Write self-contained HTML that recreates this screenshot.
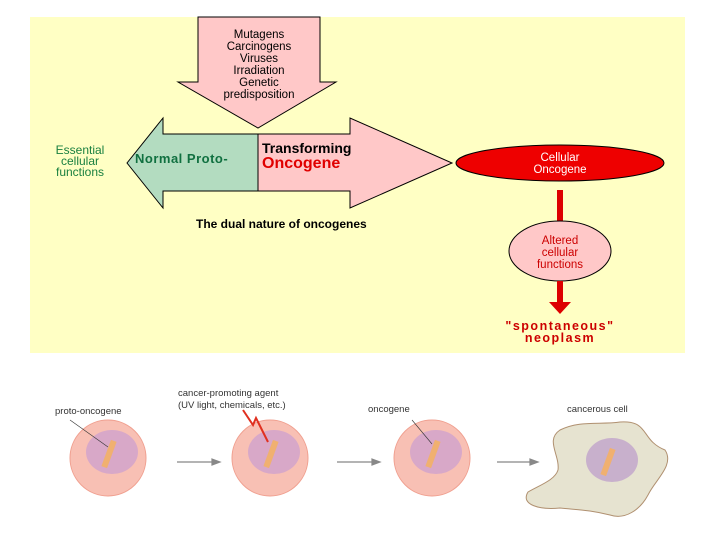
<!DOCTYPE html>
<html><head><style>
body{margin:0;width:720px;height:540px;background:#fff;overflow:hidden;font-family:"Liberation Sans",sans-serif}
</style></head><body>
<svg width="720" height="540" viewBox="0 0 720 540" xmlns="http://www.w3.org/2000/svg" font-family="Liberation Sans, sans-serif">
<rect x="30" y="17" width="655" height="336" fill="#ffffc4"/>
<polygon points="198,17 320,17 320,82 336,82 258,128 178,82 198,82" fill="#ffc8c8" stroke="#000" stroke-width="1"/>
<g font-size="11.5" text-anchor="middle" fill="#000">
<text x="259" y="38">Mutagens</text><text x="259" y="50">Carcinogens</text><text x="259" y="62">Viruses</text>
<text x="259" y="74">Irradiation</text><text x="259" y="86">Genetic</text><text x="259" y="98">predisposition</text></g>
<polygon points="258,134 163,134 163,118 127,163 163,208 163,191 258,191" fill="#b3dcc0" stroke="#000"/>
<polygon points="258,134 350,134 350,118 452,163 350,208 350,191 258,191" fill="#ffc8c8" stroke="#000"/>
<text x="135" y="163" font-size="13" font-weight="bold" fill="#107040" letter-spacing="0.5">Normal  Proto-</text>
<text x="262" y="153" font-size="14" font-weight="bold" fill="#000">Transforming</text>
<text x="262" y="168" font-size="16" font-weight="bold" fill="#e00000">Oncogene</text>
<g font-size="12" fill="#1a8040" text-anchor="middle"><text x="80" y="154">Essential</text><text x="80" y="165">cellular</text><text x="80" y="176">functions</text></g>
<text x="196" y="228" font-size="12" font-weight="bold" fill="#000">The dual nature of oncogenes</text>
<ellipse cx="560" cy="163" rx="104" ry="18" fill="#ee0000" stroke="#000"/>
<text x="560" y="161" font-size="11.5" fill="#fff" text-anchor="middle">Cellular</text>
<text x="560" y="173" font-size="11.5" fill="#fff" text-anchor="middle">Oncogene</text>
<rect x="557" y="190" width="6" height="31" fill="#dd0000"/>
<ellipse cx="560" cy="251" rx="51" ry="30" fill="#ffc8c8" stroke="#000"/>
<g font-size="11.5" fill="#cc0000" text-anchor="middle"><text x="560" y="244">Altered</text><text x="560" y="256">cellular</text><text x="560" y="268">functions</text></g>
<rect x="557" y="281" width="6" height="26" fill="#dd0000"/>
<polygon points="549,302 571,302 560,314" fill="#dd0000"/>
<text x="560" y="330" font-size="12.5" font-weight="bold" fill="#cc0000" text-anchor="middle" letter-spacing="1.5">"spontaneous"</text>
<text x="560" y="342" font-size="12.5" font-weight="bold" fill="#cc0000" text-anchor="middle" letter-spacing="1.5">neoplasm</text>
<g font-size="9.5" fill="#333">
<text x="55" y="414">proto-oncogene</text>
<text x="178" y="396">cancer-promoting agent</text><text x="178" y="408">(UV light, chemicals, etc.)</text>
<text x="368" y="412">oncogene</text>
<text x="567" y="412">cancerous cell</text></g>
<g>
<circle cx="108" cy="458" r="38" fill="#f8c0b4" stroke="#f0a090"/>
<ellipse cx="112" cy="452" rx="26" ry="22" fill="#d8a8c8"/>
<rect x="106" y="440" width="6" height="28" fill="#f0b070" transform="rotate(20 109 454)"/>
<line x1="70" y1="420" x2="108" y2="447" stroke="#333" stroke-width="0.6"/>
<circle cx="270" cy="458" r="38" fill="#f8c0b4" stroke="#f0a090"/>
<ellipse cx="274" cy="452" rx="26" ry="22" fill="#d8a8c8"/>
<rect x="268" y="440" width="6" height="28" fill="#f0b070" transform="rotate(20 271 454)"/>
<polyline points="243,410 253,425 256,418 268,442" fill="none" stroke="#e03020" stroke-width="2"/>
<circle cx="432" cy="458" r="38" fill="#f8c0b4" stroke="#f0a090"/>
<ellipse cx="436" cy="452" rx="26" ry="22" fill="#d8a8c8"/>
<rect x="430" y="440" width="6" height="28" fill="#f0b070" transform="rotate(20 433 454)"/>
<line x1="412" y1="420" x2="432" y2="444" stroke="#333" stroke-width="0.6"/>
<path d="M560,430 C580,420 600,425 620,422 C650,420 640,440 665,450 C675,465 655,480 648,495 C640,510 625,520 610,515 C590,510 580,510 560,508 C540,510 520,505 528,492 C540,485 555,480 558,470 C560,455 545,440 560,430Z" fill="#e6e3d0" stroke="#b09070"/>
<ellipse cx="612" cy="460" rx="26" ry="22" fill="#c8b0cc"/>
<rect x="605" y="448" width="6" height="28" fill="#f0b070" transform="rotate(20 608 462)"/>
</g>
<g stroke="#888" stroke-width="1.2" fill="#888">
<line x1="177" y1="462" x2="212" y2="462"/><polygon points="212,459 220,462 212,465"/>
<line x1="337" y1="462" x2="372" y2="462"/><polygon points="372,459 380,462 372,465"/>
<line x1="497" y1="462" x2="530" y2="462"/><polygon points="530,459 538,462 530,465"/>
</g>
</svg>
</body></html>
